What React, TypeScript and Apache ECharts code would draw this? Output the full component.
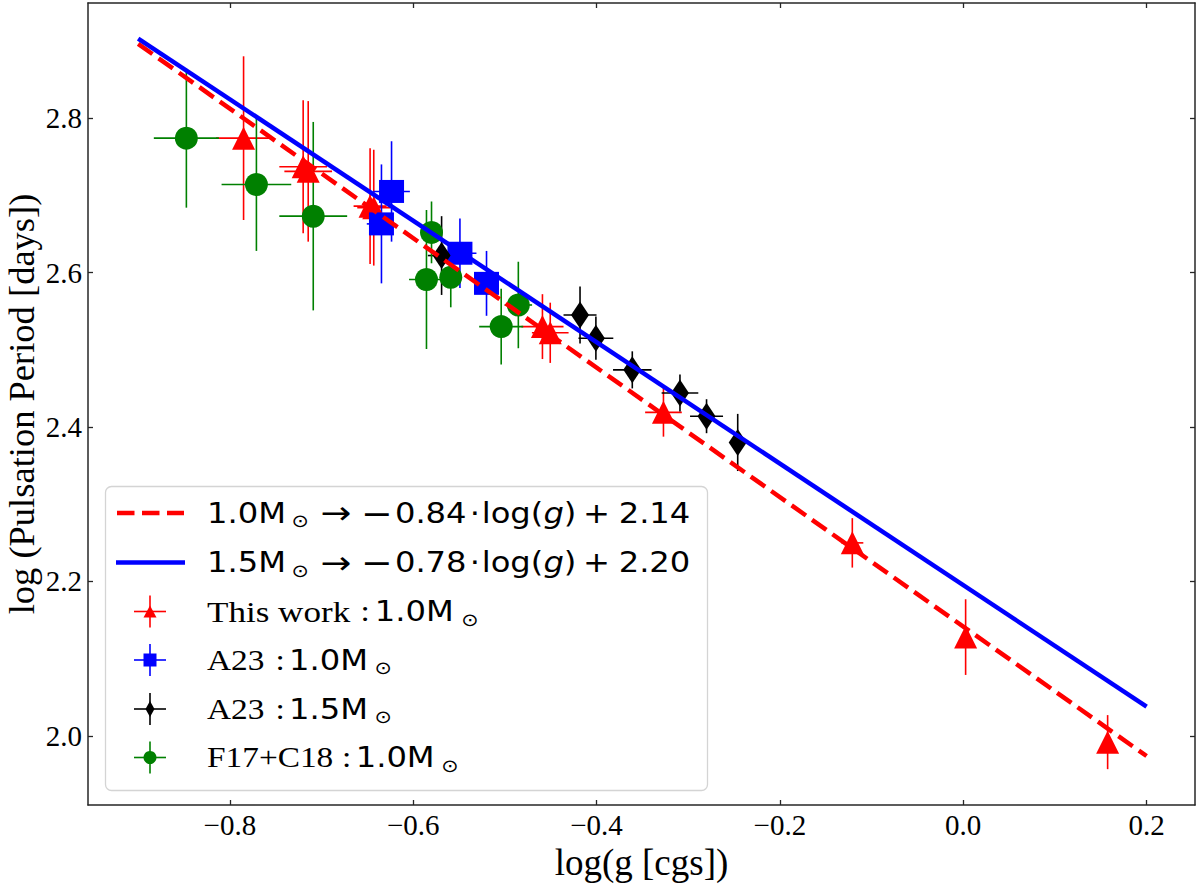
import React, { useEffect, useRef } from "react";
import * as echarts from "echarts";

// ---- axis ticks ----
const xTicks = [-0.8, -0.6, -0.4, -0.2, 0.0, 0.2];
const yTicks = [2.0, 2.2, 2.4, 2.6, 2.8];

// ---- fitted relations (end points) ----
const fit10X = [-0.9, 0.2];
const fit10Y = [2.896, 1.974];
const fit15X = [-0.9, 0.2];
const fit15Y = [2.903, 2.038];

// ---- This work : 1.0 Msun ----
const thisWorkX = [-0.785, -0.72, -0.7145, -0.647, -0.643, -0.459, -0.4505, -0.327, -0.121, 0.0026, 0.1575];
const thisWorkY = [2.774, 2.737, 2.731, 2.686, 2.684, 2.53, 2.522, 2.419, 2.25, 2.128, 1.992];
const thisWorkXErr = [0.03, 0.026, 0.026, 0.018, 0.018, 0.023, 0.02, 0.02, 0.012, 0.0, 0.0];
const thisWorkYErr = [0.106, 0.086, 0.091, 0.075, 0.075, 0.042, 0.039, 0.0315, 0.032, 0.049, 0.035];

// ---- A23 : 1.0 Msun ----
const a23m10X = [-0.6236, -0.6346, -0.549, -0.52];
const a23m10Y = [2.705, 2.663, 2.625, 2.586];
const a23m10XErr = [0.02, 0.016, 0.018, 0.01];
const a23m10YErr = [0.065, 0.077, 0.045, 0.042];

// ---- A23 : 1.5 Msun ----
const a23m15X = [-0.569, -0.418, -0.4007, -0.361, -0.309, -0.28, -0.246];
const a23m15Y = [2.622, 2.545, 2.515, 2.474, 2.444, 2.414, 2.38];
const a23m15XErr = [0.015, 0.018, 0.019, 0.021, 0.02, 0.018, 0.004];
const a23m15YErr = [0.051, 0.037, 0.028, 0.024, 0.024, 0.022, 0.037];

// ---- F17+C18 : 1.0 Msun ----
const f17X = [-0.8474, -0.771, -0.709, -0.58, -0.5855, -0.559, -0.504, -0.4853];
const f17Y = [2.774, 2.714, 2.673, 2.652, 2.591, 2.594, 2.53, 2.558];
const f17XErr = [0.0355, 0.038, 0.037, 0.012, 0.019, 0.01, 0.024, 0.015];
const f17YErr = [0.09, 0.086, 0.122, 0.04, 0.09, 0.039, 0.049, 0.056];

const RED = "#ff0000";
const BLUE = "#0000ff";
const BLACK = "#000000";
const GREEN = "#008000";
const AXIS = "#262626";
const SERIF = "Liberation Serif";
const SANS = "DejaVu Sans";

const rows = (xs: number[], ys: number[], exs: number[], eys: number[]) =>
  xs.map((x, i) => [x, ys[i], exs[i], eys[i]]);

const errSeries = (data: number[][], color: string) => ({
  type: "custom",
  data,
  encode: { x: 0, y: 1 },
  silent: true,
  renderItem: (params: any, api: any) => {
    const x = api.value(0);
    const y = api.value(1);
    const ex = api.value(2);
    const ey = api.value(3);
    const a = api.coord([x - ex, y]);
    const b = api.coord([x + ex, y]);
    const c = api.coord([x, y - ey]);
    const d = api.coord([x, y + ey]);
    const style = { stroke: color, lineWidth: 1.6 };
    return {
      type: "group",
      children: [
        { type: "line", shape: { x1: a[0], y1: a[1], x2: b[0], y2: b[1] }, style },
        { type: "line", shape: { x1: c[0], y1: c[1], x2: d[0], y2: d[1] }, style },
      ],
    };
  },
});

const markSeries = (data: number[][], color: string, symbol: string, size: any) => ({
  type: "scatter",
  data: data.map((r) => [r[0], r[1]]),
  symbol,
  symbolSize: size,
  itemStyle: { color, opacity: 1 },
  emphasis: { disabled: true },
  silent: true,
});

const lineSeries = (xs: number[], ys: number[], color: string, dash: any) => ({
  type: "line",
  data: xs.map((x, i) => [x, ys[i]]),
  symbol: "none",
  showSymbol: false,
  silent: true,
  lineStyle: { color, width: 4.5, type: dash, cap: "butt" },
});

const fmt = (v: number) => (v < 0 ? "\u2212" : "") + Math.abs(v).toFixed(1);

const X_MIN = -0.9547;
const X_MAX = 0.2528;
const Y_MIN = 1.9106;
const Y_MAX = 2.949;

const tickStyle = (vals: number[]) => ({
  show: true,
  inside: true,
  length: 5,
  customValues: vals,
  lineStyle: { color: AXIS, width: 1.3 },
});
const lineStyleAxis = { show: true, onZero: false, lineStyle: { color: AXIS, width: 1.5 } };

// legend text styles (drawn with a horizontal stretch to match the picture)
const BASE: Record<string, any> = {
  m: { fontFamily: SANS, fontSize: 28, lineHeight: 34, fill: "#000", align: "left" },
  op: { fontFamily: SANS, fontSize: 33, lineHeight: 34, fill: "#000", align: "left" },
  ar: { fontFamily: SANS, fontSize: 32, lineHeight: 34, fill: "#000", align: "left" },
  i: { fontFamily: SANS, fontSize: 28, lineHeight: 34, fontStyle: "italic", fill: "#000", align: "left" },
  s: { fontFamily: SANS, fontSize: 18, lineHeight: 18, verticalAlign: "bottom", fill: "#000", align: "left" },
  t: { fontFamily: SERIF, fontSize: 29, lineHeight: 34, fill: "#000", align: "left" },
  tw: { fontFamily: SERIF, fontSize: 30.5, lineHeight: 34, fill: "#000", align: "left" },
};

const SUN = "\u2299";
const fitPieces = (mass: string, slope: string, icpt: string) => [
  ["m", mass, 73.4],
  ["s", SUN, 25.3],
  ["ar", "\u2192", 35.2],
  ["op", "\u2212", 29.5],
  ["m", slope, 65],
  ["m", "\u00b7", 10.5],
  ["m", "log("],
  ["i", "g"],
  ["m", ")", 16.6],
  ["m", "+", 31.1],
  ["m", icpt],
];
const legendPieces: any[][] = [
  fitPieces("1.0M", "0.84", "2.14"),
  fitPieces("1.5M", "0.78", "2.20"),
  [["tw", "This work", 133.4], ["t", ":", 12.5], ["m", "1.0M", 75.3], ["s", SUN]],
  [["t", "A23", 59.5], ["t", ":", 11.9], ["m", "1.0M", 74.2], ["s", SUN]],
  [["t", "A23", 59.5], ["t", ":", 11.9], ["m", "1.5M", 74.2], ["s", SUN]],
  [["t", "F17+C18", 117.5], ["t", ":", 11.8], ["m", "1.0M", 74.5], ["s", SUN]],
];

const richRow = (pieces: any[], r: number) => {
  const rich: Record<string, any> = {};
  let text = "";
  pieces.forEach((p: any[], k: number) => {
    const key = "r" + r + "k" + k;
    rich[key] = { ...BASE[p[0]], ...(p[2] != null ? { width: p[2] } : {}) };
    text += "{" + key + "|" + p[1] + "}";
  });
  return { text, rich };
};

const legendRows = [513, 562.5, 611.5, 660, 709, 757.5];

const cross = (cx: number, cy: number, color: string) => [
  { type: "line", shape: { x1: cx - 16, y1: cy, x2: cx + 16, y2: cy }, style: { stroke: color, lineWidth: 1.6 }, z: 101 },
  { type: "line", shape: { x1: cx, y1: cy - 16, x2: cx, y2: cy + 16 }, style: { stroke: color, lineWidth: 1.6 }, z: 101 },
];

function buildLegend() {
  const LX = 150;
  const g: any[] = [];
  g.push({
    type: "rect",
    shape: { x: 105.5, y: 486.5, width: 602, height: 304, r: 6 },
    style: { fill: "#ffffff", stroke: "#d4d4d4", lineWidth: 1.3 },
    z: 100,
  });
  g.push({
    type: "line",
    shape: { x1: 117, y1: legendRows[0], x2: 184, y2: legendRows[0] },
    style: { stroke: RED, lineWidth: 4.5, lineDash: [17.5, 7.5] },
    z: 101,
  });
  g.push({
    type: "line",
    shape: { x1: 116, y1: legendRows[1], x2: 185, y2: legendRows[1] },
    style: { stroke: BLUE, lineWidth: 4.5 },
    z: 101,
  });
  const y3 = legendRows[2];
  g.push(...cross(LX, y3, RED));
  g.push({ type: "polygon", shape: { points: [[LX, y3 - 6], [LX - 6.5, y3 + 6], [LX + 6.5, y3 + 6]] }, style: { fill: RED }, z: 102 });
  const y4 = legendRows[3];
  g.push(...cross(LX, y4, BLUE));
  g.push({ type: "rect", shape: { x: LX - 6.5, y: y4 - 6.5, width: 13, height: 13 }, style: { fill: BLUE }, z: 102 });
  const y5 = legendRows[4];
  g.push(...cross(LX, y5, BLACK));
  g.push({ type: "polygon", shape: { points: [[LX, y5 - 8], [LX + 4.5, y5], [LX, y5 + 8], [LX - 4.5, y5]] }, style: { fill: BLACK }, z: 102 });
  const y6 = legendRows[5];
  g.push(...cross(LX, y6, GREEN));
  g.push({ type: "circle", shape: { cx: LX, cy: y6, r: 6.5 }, style: { fill: GREEN }, z: 102 });
  legendPieces.forEach((p, i) => {
    const { text, rich } = richRow(p, i);
    g.push({
      type: "text",
      x: 207,
      y: legendRows[i],
      scaleX: 1.15,
      scaleY: 1,
      z: 103,
      style: { text, rich, verticalAlign: "middle", align: "left", fill: "#000" },
    });
  });
  return g;
}

export default function App() {
  const ref = useRef<HTMLDivElement>(null);
  useEffect(() => {
    if (!ref.current) return;
    const chart = echarts.init(ref.current, null, { renderer: "svg" });
    const redRows = rows(thisWorkX, thisWorkY, thisWorkXErr, thisWorkYErr);
    const blueRows = rows(a23m10X, a23m10Y, a23m10XErr, a23m10YErr);
    const blackRows = rows(a23m15X, a23m15Y, a23m15XErr, a23m15YErr);
    const greenRows = rows(f17X, f17Y, f17XErr, f17YErr);
    const option: any = {
      animation: false,
      backgroundColor: "#ffffff",
      grid: { left: 88, right: 5, top: 3, bottom: 81, containLabel: false, outerBoundsMode: "none" },
      xAxis: [
        {
          type: "value",
          min: X_MIN,
          max: X_MAX,
          position: "bottom",
          splitLine: { show: false },
          axisLine: lineStyleAxis,
          axisTick: tickStyle(xTicks),
          axisLabel: {
            customValues: xTicks,
            formatter: fmt,
            fontFamily: SERIF,
            fontSize: 29,
            color: "#000",
            margin: 5,
          },
          name: "log(g [cgs])",
          nameLocation: "middle",
          nameGap: 34,
          nameTextStyle: { fontFamily: SERIF, fontSize: 37, color: "#000" },
        },
        {
          type: "value",
          min: X_MIN,
          max: X_MAX,
          position: "top",
          splitLine: { show: false },
          axisLine: lineStyleAxis,
          axisTick: tickStyle(xTicks),
          axisLabel: { show: false },
        },
      ],
      yAxis: [
        {
          type: "value",
          min: Y_MIN,
          max: Y_MAX,
          position: "left",
          splitLine: { show: false },
          axisLine: lineStyleAxis,
          axisTick: tickStyle(yTicks),
          axisLabel: {
            customValues: yTicks,
            formatter: fmt,
            fontFamily: SERIF,
            fontSize: 29,
            color: "#000",
            margin: 6,
          },
          name: "log (Pulsation Period [days])",
          nameLocation: "middle",
          nameMoveOverlap: false,
          nameGap: 52,
          nameTextStyle: { fontFamily: SERIF, fontSize: 36.5, lineHeight: 30, color: "#000" },
        },
        {
          type: "value",
          min: Y_MIN,
          max: Y_MAX,
          position: "right",
          splitLine: { show: false },
          axisLine: lineStyleAxis,
          axisTick: tickStyle(yTicks),
          axisLabel: { show: false },
        },
      ],
      series: [
        lineSeries(fit10X, fit10Y, RED, [17.5, 7.5]),
        lineSeries(fit15X, fit15Y, BLUE, "solid"),
        errSeries(redRows, RED),
        markSeries(redRows, RED, "triangle", 23),
        errSeries(blueRows, BLUE),
        markSeries(blueRows, BLUE, "rect", [25, 23]),
        errSeries(blackRows, BLACK),
        markSeries(blackRows, BLACK, "diamond", [18, 27]),
        errSeries(greenRows, GREEN),
        markSeries(greenRows, GREEN, "circle", 23),
      ],
      graphic: buildLegend(),
    };
    chart.setOption(option);
    return () => chart.dispose();
  }, []);
  return (
    <div
      ref={ref}
      style={{ position: "fixed", left: 0, top: 0, width: 1200, height: 886, background: "#fff" }}
    />
  );
}
